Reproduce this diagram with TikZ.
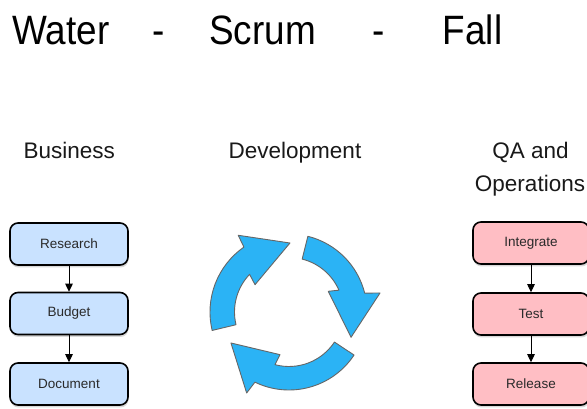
\documentclass[tikz,border=0pt]{standalone}
\usepackage{fontspec}
\setmainfont{Liberation Sans}
\newfontfamily\titlefont[FakeStretch=0.9]{Liberation Sans}
\usetikzlibrary{arrows.meta,shadows}
\definecolor{boxblue}{HTML}{C9E2FF}
\definecolor{boxpink}{HTML}{FFBEC4}
\definecolor{boxtext}{HTML}{2A2A2A}
\definecolor{cycblue}{HTML}{2BB3F5}
\definecolor{cycline}{HTML}{666666}
\begin{document}
\begin{tikzpicture}[x=1pt,y=1pt,
  stepbox/.style={draw=black, line width=1.6pt, rounded corners=8pt,
    minimum width=118pt, minimum height=42pt, inner sep=0pt,
    font=\fontsize{13.5}{16}\selectfont, text=boxtext,
    drop shadow={shadow xshift=0.5pt, shadow yshift=-2.5pt, opacity=0.3}},
  blbox/.style={stepbox, fill=boxblue},
  pkbox/.style={stepbox, fill=boxpink, minimum width=116pt},
  flow/.style={draw=black, line width=1pt, -{Triangle[length=8pt,width=7.5pt]}},
  titletext/.style={anchor=base, font=\titlefont\fontsize{41}{41}\selectfont, text=black, inner sep=0pt},
  lane/.style={anchor=base, font=\fontsize{22.5}{33}\selectfont, text=black!90, inner sep=0pt},
  cyc/.style={fill=cycblue, draw=cycline, line width=0.9pt, line join=round}]
\useasboundingbox[fill=white] (0,0) rectangle (587,409);

% title
\node[titletext] (t1) at (61,364) {Water};
\node[titletext] (t2) at (159,364) {-};
\node[titletext] (t3) at (262.5,364) {Scrum};
\node[titletext] (t4) at (379,364) {-};
\node[titletext] (t5) at (472.5,364) {Fall};

% lane headings
\node[lane] (l1) at (69.3,250) {Business};
\node[lane] (l2) at (295,250) {Development};
\node[lane] (l3a) at (530.5,250) {QA and};
\node[lane] (l3b) at (530,217) {Operations};

% business flow
\node[blbox] (res) at (69,165) {Research};
\node[blbox] (bud) at (69,95.5) {Budget};
\node[blbox] (doc) at (69,25) {Document};
\draw[flow] (res.south) -- (bud.north);
\draw[flow] (bud.south) -- (doc.north);

% QA flow
\node[pkbox] (int) at (531,166) {Integrate};
\node[pkbox] (tst) at (531,95) {Test};
\node[pkbox] (rel) at (531,25) {Release};
\draw[flow] (int.south) -- (tst.north);
\draw[flow] (tst.south) -- (rel.north);

% scrum cycle
\coordinate (C) at (289,97);
\draw[cyc] ([shift={(193.5:79)}]C) arc[start angle=193.5, end angle=124.8, radius=79]
  -- ([shift={(123.5:92)}]C) -- ([shift={(89.2:69)}]C) -- ([shift={(141.2:43.6)}]C)
  -- ([shift={(136.3:54.5)}]C) arc[start angle=136.3, end angle=193.5, radius=54.5] -- cycle;
\draw[cyc] ([shift={(76:78)}]C) arc[start angle=76, end angle=14, radius=78]
  -- ([shift={(11.8:93)}]C) -- ([shift={(-22.2:67)}]C) -- ([shift={(27.8:44.4)}]C)
  -- ([shift={(23.6:54.5)}]C) arc[start angle=23.6, end angle=76, radius=54.5] -- cycle;
\draw[cyc] ([shift={(-33.5:78)}]C) arc[start angle=-33.5, end angle=-115.9, radius=78]
  -- ([shift={(242.4:91.4)}]C) -- ([shift={(208.1:65.8)}]C) -- ([shift={(258.1:43.6)}]C)
  -- ([shift={(-104.9:54.5)}]C) arc[start angle=-104.9, end angle=-33.5, radius=54.5] -- cycle;
\end{tikzpicture}
\end{document}
